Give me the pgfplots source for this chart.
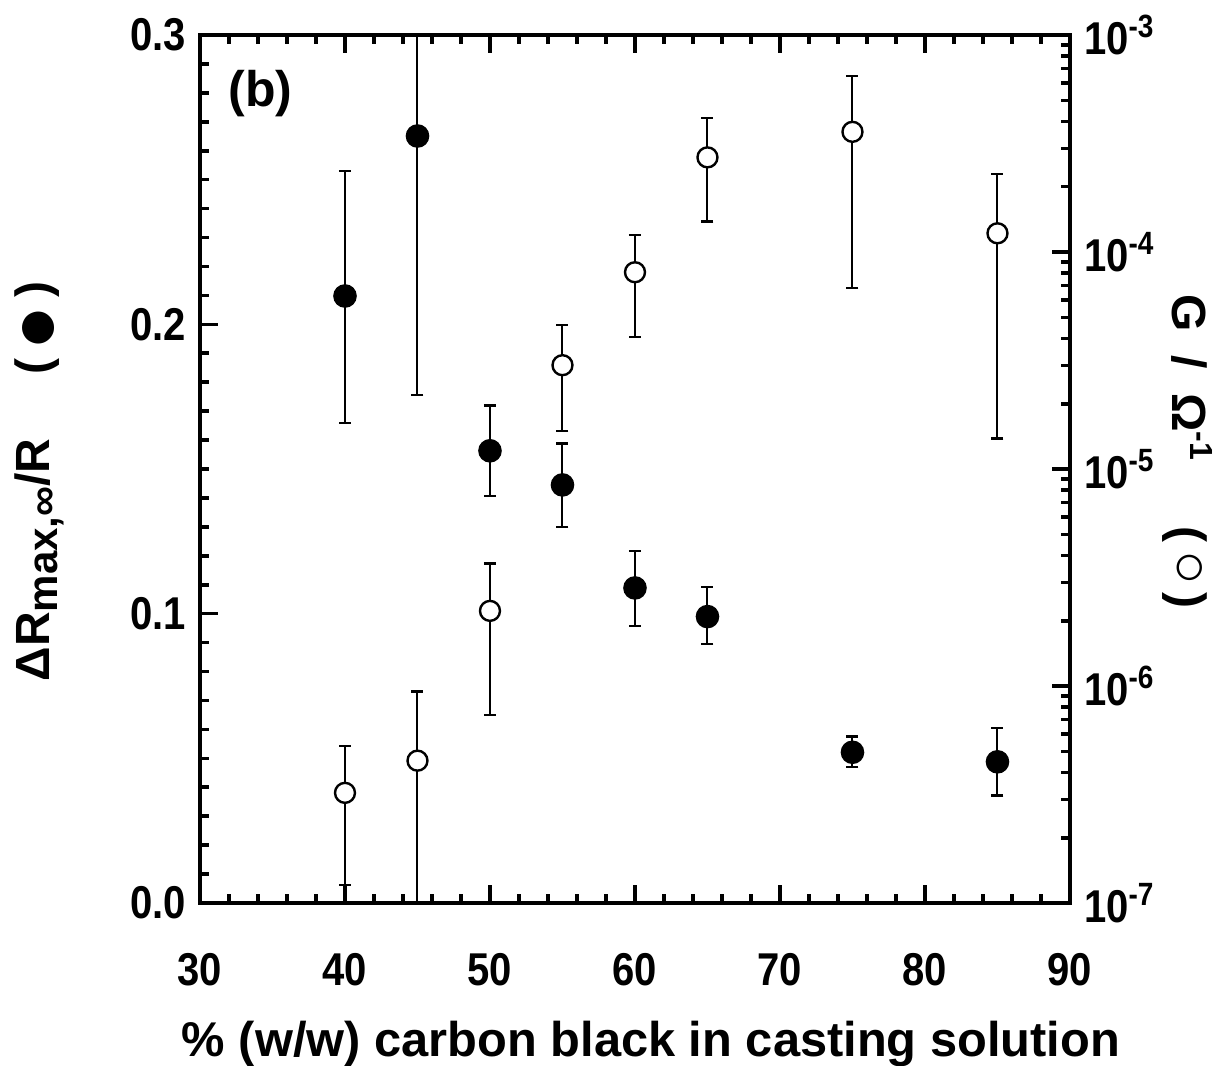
\documentclass[border=0pt]{standalone}
\usepackage{fontspec}
\setmainfont{Liberation Sans}
\newfontfamily\tickfont[FakeStretch=0.87]{Liberation Sans}
\usepackage{graphicx}
\usepackage{pgfplots}
\pgfplotsset{compat=1.18}

\pgfplotstableread{
x     y       ep      em
40    0.2098  0.0432  0.0439
45    0.2651  0.0895  0.0895
50    0.1563  0.0156  0.0156
55    0.1445  0.0143  0.0145
60    0.1089  0.0128  0.0132
65    0.0990  0.0102  0.0095
75    0.0521  0.0054  0.0050
85    0.0488  0.0116  0.0117
}\filled

\pgfplotstableread{
x     y        ep        em
40    3.22e-7  2.07e-7   2.01e-7
45    4.53e-7  4.89e-7   4.03e-7
50    2.22e-6  1.45e-6   1.485e-6
55    3.01e-5  1.60e-5   1.51e-5
60    8.07e-5  3.93e-5   4.02e-5
65    2.73e-4  1.42e-4   1.35e-4
75    3.58e-4  2.91e-4   2.899e-4
85    1.22e-4  1.07e-4   1.082e-4
}\hollow

\pgfplotsset{
  common/.style={
    scale only axis, width=217.5pt, height=217pt,
    xmin=30, xmax=90,
    clip mode=individual,
    tick align=inside,
    major tick length=4.5pt, minor tick length=2.2pt,
    axis line style={line width=1pt},
    every tick/.style={black, line width=0.9pt},
    tick label style={font=\tickfont\bfseries\fontsize{11.5}{13}\selectfont},
  },
}

\begin{document}
\begin{tikzpicture}
\useasboundingbox (-50pt,-40.5pt) rectangle (258pt,225.75pt);
\begin{axis}[common,
  ymin=0, ymax=0.3,
  xtick={30,40,50,60,70,80,90},
  xticklabels={30,40,50,60,70,80,90},
  minor x tick num=4,
  xtick pos=both,
  ytick={0,0.1,0.2,0.3},
  yticklabels={0.0,0.1,0.2,0.3},
  minor y tick num=9,
  ytick pos=left,
  xticklabel style={yshift=-9pt},
  xlabel={\% (w/w) carbon black in casting solution},
  xlabel style={font=\bfseries\fontsize{12.2}{14}\selectfont, yshift=-2pt, xshift=4pt},
]
\addplot[only marks, mark=*, mark size=2.75pt,
  mark options={fill=black, draw=black},
  error bars/.cd, y dir=both, y explicit,
  error bar style={line width=0.5pt, black},
  error mark options={rotate=90, mark size=1.5pt, line width=0.6pt, black}]
  table[x=x, y=y, y error plus=ep, y error minus=em] {\filled};
\node[anchor=north west, inner sep=0pt, font=\bfseries\fontsize{12.5}{14}\selectfont]
  at (rel axis cs:0.032,0.96) {(b)};
\node[rotate=90, anchor=base, inner sep=0pt, font=\bfseries\fontsize{12}{14}\selectfont]
  at ([xshift=-37.5pt]rel axis cs:0,0.4856)
  {ΔR\raisebox{-2pt}{\fontsize{10.5}{10.5}\selectfont max,∞}/R\hspace{16pt}(\hspace{2pt}\raisebox{-2.4pt}{\scalebox{1.55}{●}}\hspace{2pt})};
\end{axis}
\begin{axis}[common,
  ymode=log, ymin=1e-7, ymax=1e-3,
  xtick=\empty,
  ytick={1e-7,1e-6,1e-5,1e-4,1e-3},
  yticklabels={10\textsuperscript{-7},10\textsuperscript{-6},10\textsuperscript{-5},10\textsuperscript{-4},10\textsuperscript{-3}},
  ytick pos=right, yticklabel pos=right,
]
\addplot[only marks, mark=*, mark size=2.5pt,
  mark options={fill=white, draw=black, line width=0.6pt},
  error bars/.cd, y dir=both, y explicit,
  error bar style={line width=0.5pt, black},
  error mark options={rotate=90, mark size=1.5pt, line width=0.6pt, black}]
  table[x=x, y=y, y error plus=ep, y error minus=em] {\hollow};
\node[rotate=-90, anchor=base, inner sep=0pt, font=\bfseries\fontsize{12}{14}\selectfont]
  at ([xshift=25.75pt]rel axis cs:1,0.52)
  {G\hspace{6pt}/\hspace{6pt}Ω\textsuperscript{-1}\hspace{16pt}(\hspace{2pt}\raisebox{0pt}{\scalebox{1.2}{○}}\hspace{2pt})};
\end{axis}
\end{tikzpicture}
\end{document}
